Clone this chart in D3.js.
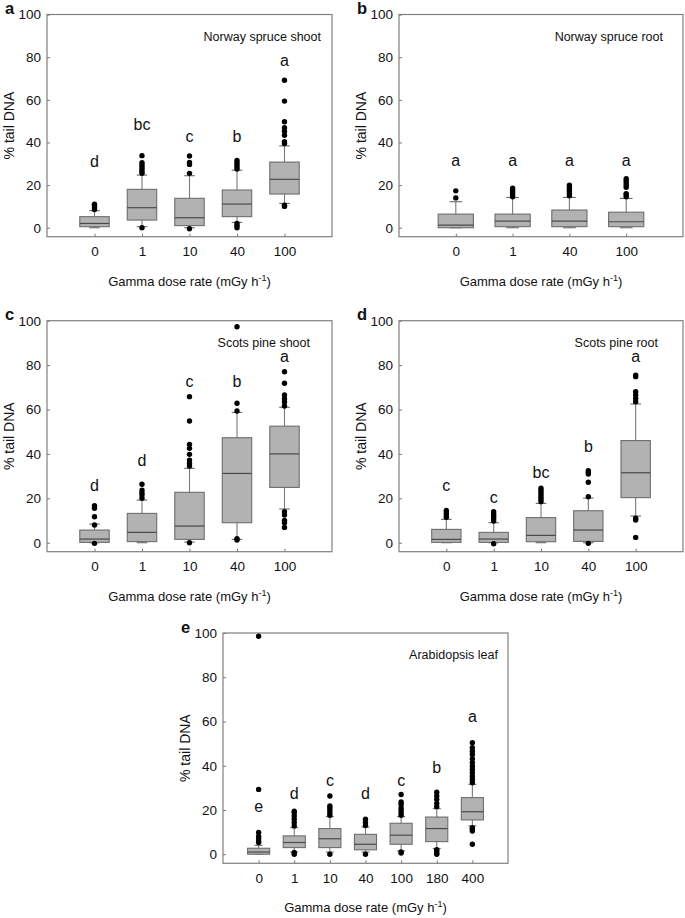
<!DOCTYPE html>
<html>
<head>
<meta charset="utf-8">
<script src="https://cdn.jsdelivr.net/npm/d3@7"></script>
<style>
  body { margin: 0; background: #fff; }
  text { font-family: Arial, 'Liberation Sans', sans-serif; fill: #111; }
</style>
</head>
<body>
<script>
/* COMET ASSAY - % tail DNA by gamma dose rate */

// Box stats are [lower whisker, q1, median, q3, upper whisker]

// a - Norway spruce shoot
const doseA = ['0', '1', '10', '40', '100'];
const boxA = [
  [0, 0.5, 2, 5.2, 8],
  [0.5, 3.6, 9.4, 18, 24.7],
  [0, 1, 4.7, 13.8, 24.4],
  [2.5, 5.2, 11.1, 17.7, 27],
  [11.4, 15.8, 22.7, 30.8, 38.4],
];
const outA = [
  [8.5, 9.5, 10.5, 11],
  [0, 25.5, 26.5, 27.5, 28.5, 29.5, 30.5, 33.8],
  [-0.5, 25.5, 29.7, 30.6, 33.7],
  [0, 1, 2, 27.5, 28.5, 29.5, 30.5, 31.5],
  [10, 10.6, 39.5, 40.3, 43.4, 45.3, 46.9, 49.7, 59.4, 69.2],
];
const letterA = ['d', 'bc', 'c', 'b', 'a'];
const letterYA = [28.6, 46, 40.3, 40.3, 75.8];

// b - Norway spruce root
const doseB = ['0', '1', '40', '100'];
const boxB = [
  [0, 0, 1.25, 6.4, 12.2],
  [0, 0.5, 3.1, 6.4, 14.2],
  [0, 0.5, 3.1, 8.3, 14.2],
  [0, 0.5, 2.8, 7.3, 13.75],
];
const outB = [
  [14, 17.3],
  [14.5, 15.5, 16.5, 17.5, 18.5],
  [15, 16, 17, 18, 19, 20],
  [14.5, 15.5, 16, 19, 20, 21, 22, 23],
];
const letterB = ['a', 'a', 'a', 'a'];
const letterYB = [29, 29, 29, 29];

// c - Scots pine shoot
const doseC = ['0', '1', '10', '40', '100'];
const boxC = [
  [0, 0.15, 1.65, 5.7, 8.4],
  [0, 0.5, 4.65, 13.2, 19.2],
  [0.3, 1.5, 7.5, 22.7, 33.5],
  [1.5, 9, 31.2, 47.3, 58.7],
  [15.2, 24.9, 40, 52.5, 61],
];
const outC = [
  [-0.3, 8, 11.7, 15.5, 16.7],
  [20, 21.5, 22.5, 23.7, 26.3],
  [0, 34.5, 35.7, 37.2, 39.8, 42.5, 44.3, 54.8, 65.8],
  [1.2, 1.8, 59.3, 62.8, 97.3],
  [6.9, 9, 10, 12.5, 14, 61.6, 63.4, 64.9, 66.5, 71.8, 77],
];
const letterC = ['d', 'd', 'c', 'b', 'a'];
const letterYC = [23.4, 34.7, 70, 70, 81.3];

// d - Scots pine root
const doseD = ['0', '1', '10', '40', '100'];
const boxD = [
  [0, 0.15, 1.5, 6, 10.5],
  [0, 0.15, 1.65, 4.65, 9],
  [0, 0.45, 3.3, 11.3, 17.7],
  [0, 0.6, 5.7, 14.4, 20.1],
  [12, 20.3, 31.5, 46, 62.5],
];
const outD = [
  [11.5, 12.5, 13.5, 14.5],
  [-0.5, 9.8, 10.8, 11.8, 12.8, 14],
  [18.5, 19.5, 20.5, 21.5, 22.5, 23.5, 24.5],
  [-0.3, 20.7, 27.2, 30.9, 31.7, 32.4],
  [2.4, 10.2, 11, 63.5, 65, 66.5, 68, 74.8, 75.5],
];
const letterD = ['c', 'c', 'bc', 'b', 'a'];
const letterYD = [23.4, 17.7, 29, 41, 81.3];

// e - Arabidopsis leaf
const doseE = ['0', '1', '10', '40', '100', '180', '400'];
const boxE = [
  [0, 0, 1, 2.7, 4],
  [1, 3, 5.3, 8.3, 12],
  [1, 3, 7, 11.6, 17],
  [1, 2, 4.5, 9, 12.3],
  [1.5, 4.5, 8.6, 14, 17],
  [2.6, 5.7, 11.6, 16.8, 20.6],
  [12.8, 15.5, 19.2, 25.6, 31.6],
];
const outE = [
  [5.3, 6, 7, 8, 9.8, 29.3, 98.5],
  [0, 0.75, 12.8, 14.3, 15.8, 17.3, 18.8, 19.5],
  [0, 17.6, 18.8, 20, 21, 21.8, 26.3],
  [0, 13, 14.3, 15.8],
  [0.5, 1, 17.6, 18.8, 20, 21, 22.6, 23.6, 27],
  [0, 0.5, 1.5, 2, 21.5, 23, 24.8, 26.3, 28],
  [4.5, 10.5, 11.3, 12, 32.3, 33.8, 35.3, 36.8, 38.3, 39.8, 41.4, 43.2, 45.1, 46.6, 48.1, 50.4],
];
const letterE = ['e', 'd', 'c', 'd', 'c', 'b', 'a'];
const letterYE = [19.2, 24.8, 30.8, 24.8, 30.8, 36.5, 59.8];

const yTicks = [0, 20, 40, 60, 80, 100];

// Panel layout (frame position in px)
const panels = [
  { tag: 'a', title: 'Norway spruce shoot', doses: doseA, boxes: boxA, outliers: outA, letters: letterA, letterY: letterYA,
    left: 47, right: 332, top: 14.5, bottom: 236.7, xMax: 6, yMin: -4.2, titleInset: 11 },
  { tag: 'b', title: 'Norway spruce root', doses: doseB, boxes: boxB, outliers: outB, letters: letterB, letterY: letterYB,
    left: 399, right: 683, top: 14.5, bottom: 236.7, xMax: 5, yMin: -4.2, titleInset: 20 },
  { tag: 'c', title: 'Scots pine shoot', doses: doseC, boxes: boxC, outliers: outC, letters: letterC, letterY: letterYC,
    left: 47, right: 332, top: 320.7, bottom: 551.7, xMax: 6, yMin: -4.05, titleInset: 22 },
  { tag: 'd', title: 'Scots pine root', doses: doseD, boxes: boxD, outliers: outD, letters: letterD, letterY: letterYD,
    left: 399, right: 683, top: 320.7, bottom: 551.7, xMax: 6, yMin: -4.05, titleInset: 25 },
  { tag: 'e', title: 'Arabidopsis leaf', doses: doseE, boxes: boxE, outliers: outE, letters: letterE, letterY: letterYE,
    left: 223, right: 508, top: 633, bottom: 863.3, xMax: 8, yMin: -4.1, titleInset: 10 },
];

const svg = d3.select('body').append('svg').attr('width', 685).attr('height', 918);

panels.forEach((p) => drawPanel(p));

function drawPanel(p) {
  const g = svg.append('g').attr('class', 'panel-' + p.tag);

  const x = d3.scaleLinear().domain([0, p.xMax]).range([p.left, p.right]);
  const y = d3.scaleLinear().domain([p.yMin, 100]).range([p.bottom, p.top]);
  const step = x(1) - x(0);
  const boxW = step * 0.62;
  const capW = boxW * 0.36;
  const pos = p.doses.map((d, i) => i + 1);

  // Axes (ticks point inward)
  const yAxis = g
    .append('g')
    .attr('transform', `translate(${p.left},0)`)
    .call(d3.axisLeft(y).tickValues(yTicks).tickSizeInner(-3).tickSizeOuter(0).tickPadding(6));

  const xAxis = g
    .append('g')
    .attr('transform', `translate(0,${p.bottom})`)
    .call(
      d3
        .axisBottom(x)
        .tickValues(pos)
        .tickFormat((d) => p.doses[d - 1])
        .tickSizeInner(-3)
        .tickSizeOuter(0)
        .tickPadding(10)
    );

  [yAxis, xAxis].forEach((ax) => {
    ax.select('.domain').remove();
    ax.selectAll('line').attr('stroke', '#777');
    ax.selectAll('text').style('font-size', '13.5px').attr('fill', '#111');
  });

  // Frame
  g.append('rect')
    .attr('x', p.left)
    .attr('y', p.top)
    .attr('width', p.right - p.left)
    .attr('height', p.bottom - p.top)
    .attr('fill', 'none')
    .attr('stroke', '#808080')
    .attr('stroke-width', 1.2);

  // Whiskers
  const boxG = g
    .selectAll('.box')
    .data(p.boxes)
    .enter()
    .append('g')
    .attr('class', 'box');

  boxG
    .append('line')
    .attr('x1', (d, i) => x(pos[i]))
    .attr('x2', (d, i) => x(pos[i]))
    .attr('y1', (d) => y(d[0]))
    .attr('y2', (d) => y(d[4]))
    .attr('stroke', '#7a7a7a')
    .attr('stroke-width', 1.1);

  [0, 4].forEach((k) => {
    boxG
      .append('line')
      .attr('x1', (d, i) => x(pos[i]) - capW / 2)
      .attr('x2', (d, i) => x(pos[i]) + capW / 2)
      .attr('y1', (d) => y(d[k]))
      .attr('y2', (d) => y(d[k]))
      .attr('stroke', '#6a6a6a')
      .attr('stroke-width', 1.1);
  });

  // Boxes
  boxG
    .append('rect')
    .attr('x', (d, i) => x(pos[i]) - boxW / 2)
    .attr('width', boxW)
    .attr('y', (d) => y(d[3]))
    .attr('height', (d) => Math.max(1, y(d[1]) - y(d[3])))
    .attr('fill', '#b2b2b2')
    .attr('stroke', '#6e6e6e')
    .attr('stroke-width', 1.1);

  // Medians
  boxG
    .append('line')
    .attr('x1', (d, i) => x(pos[i]) - boxW / 2)
    .attr('x2', (d, i) => x(pos[i]) + boxW / 2)
    .attr('y1', (d) => y(d[2]))
    .attr('y2', (d) => y(d[2]))
    .attr('stroke', '#4a4a4a')
    .attr('stroke-width', 1.2);

  // Outliers
  const pts = [];
  p.outliers.forEach((list, i) => list.forEach((v) => pts.push([pos[i], v])));
  g.selectAll('.outlier')
    .data(pts)
    .enter()
    .append('circle')
    .attr('class', 'outlier')
    .attr('cx', (d) => x(d[0]))
    .attr('cy', (d) => y(d[1]))
    .attr('r', 2.7)
    .attr('fill', '#000');

  // Significance letters
  g.selectAll('.letter')
    .data(p.letters)
    .enter()
    .append('text')
    .attr('class', 'letter')
    .attr('x', (d, i) => x(pos[i]))
    .attr('y', (d, i) => y(p.letterY[i]))
    .attr('text-anchor', 'middle')
    .style('font-size', '16px')
    .text((d) => d);

  // Plot title
  g.append('text')
    .attr('x', p.right - p.titleInset)
    .attr('y', p.top + 26)
    .attr('text-anchor', 'end')
    .style('font-size', '12.5px')
    .text(p.title);

  // Panel tag
  g.append('text')
    .attr('x', p.left - 42)
    .attr('y', p.top - 0.5)
    .style('font-size', '16.5px')
    .style('font-weight', 'bold')
    .text(p.tag);

  // Y title
  g.append('text')
    .attr('transform', `translate(${p.left - 33},${(p.top + p.bottom) / 2}) rotate(-90)`)
    .attr('text-anchor', 'middle')
    .style('font-size', '14px')
    .text('% tail DNA');

  // X title with superscript
  const xt = g
    .append('text')
    .attr('x', (p.left + p.right) / 2)
    .attr('y', p.bottom + 49)
    .attr('text-anchor', 'middle')
    .style('font-size', '13px');
  xt.append('tspan').text('Gamma dose rate (mGy h');
  xt.append('tspan').attr('dy', -5).style('font-size', '9px').text('-1');
  xt.append('tspan').attr('dy', 5).text(')');
}
</script>
</body>
</html>
